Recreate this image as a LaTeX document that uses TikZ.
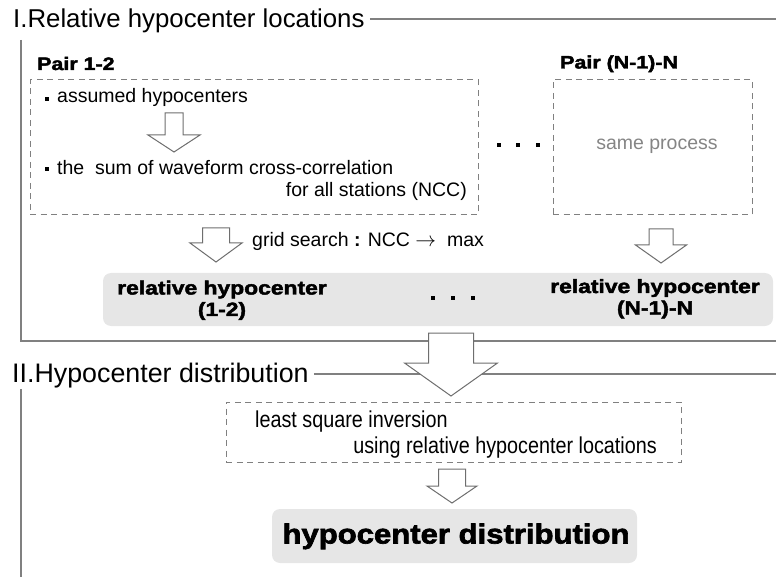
\documentclass[tikz,border=0pt]{standalone}
\usepackage{fontspec}
\setmainfont{Liberation Sans}
\newfontfamily\heavyfont[FakeBold=2.4,FakeStretch=1.19]{Liberation Sans Bold}
\newfontfamily\bigheavyfont[FakeBold=2.4,FakeStretch=1.13]{Liberation Sans Bold}
\newfontfamily\narrowfont[FakeStretch=0.86]{Liberation Sans}
\definecolor{framegray}{HTML}{808080}
\definecolor{arrowgray}{HTML}{6E6E6E}
\definecolor{panelgray}{HTML}{E6E6E6}
\definecolor{softtext}{HTML}{858585}
\tikzset{
  frameline/.style={draw=framegray, line width=1.2pt},
  dashbox/.style={draw=framegray, line width=1pt, dash pattern=on 6pt off 4.5pt, inner sep=0pt},
  panel/.style={fill=panelgray, rounded corners=8pt, inner sep=0pt},
  blockarrow/.style={draw=arrowgray, fill=white, line width=1pt, line join=miter},
  plain/.style={inner sep=0pt, font=\fontsize{19.5}{22}\selectfont},
  heading/.style={inner sep=0pt, font=\fontsize{25.8}{28}\selectfont},
  pairlabel/.style={inner sep=0pt, font=\heavyfont\fontsize{18}{20}\selectfont},
  result/.style={inner sep=0pt, align=center, font=\heavyfont\fontsize{19.2}{21.5}\selectfont},
  dotmark/.style={fill=black, minimum size=4pt, inner sep=0pt},
}
% hollow downward block arrow: centre x, shaft half width, top, head y, head half width, tip y
\newcommand\hollowarrow[6]{%
  \draw[blockarrow] ({#1-#2},#3) -- ({#1+#2},#3) -- ({#1+#2},#4) -- ({#1+#5},#4)
    -- (#1,#6) -- ({#1-#5},#4) -- ({#1-#2},#4) -- cycle;}
\begin{document}
\begin{tikzpicture}[x=1pt, y=-1pt]
\useasboundingbox (0,0) rectangle (776,577);

% ---------- section I ----------
\node[heading, anchor=base west] (titleI) at (13,27.5) {I.Relative hypocenter locations};
\coordinate (titleIend) at (776,19);
\draw[frameline] (titleI.east |- titleIend) ++(5,0) -- (titleIend);
\coordinate (secItop) at (21,40);
\coordinate (secIcorner) at (21,341);
\coordinate (secIend) at (776,341);
\draw[frameline] (secItop) -- (secIcorner) -- (secIend);

% pair 1-2
\node[pairlabel, anchor=base west] (pairA) at (37,70) {Pair 1-2};
\node[dashbox, minimum width=448pt, minimum height=135pt] (boxA) at (254,147.5) {};
\node[dotmark] (bulA) at (47,99) {};
\node[plain, anchor=base west] (assumed) at (57,103) {assumed hypocenters};
\hollowarrow{174}{9}{113}{135}{26}{152}
\node[dotmark] (bulB) at (47,169) {};
\node[plain, anchor=base west] (sumline) at (57,174.5) {the\ \ sum of waveform cross-correlation};
\node[plain, anchor=base east] (stations) at (467,197) {for all stations (NCC)};

% dots between the pairs
\node[dotmark] (d1) at (499,145) {};
\node[dotmark] (d2) at (518,145) {};
\node[dotmark] (d3) at (538,145) {};

% pair (N-1)-N
\node[pairlabel, anchor=base west] (pairB) at (560,68.5) {Pair (N-1)-N};
\node[dashbox, minimum width=199pt, minimum height=135pt] (boxB) at (652.5,147.5) {};
\node[plain, text=softtext, anchor=base] (same) at (657,150) {same process};

% grid search step
\hollowarrow{216}{13.5}{228}{243}{26}{262}
\node[plain, anchor=base west] (grid) at (252,247) {grid search {\bfseries :} NCC $\rightarrow$\ \ max};
\hollowarrow{661}{12}{229}{245}{25.5}{263}

% relative hypocenters
\node[panel, minimum width=670pt, minimum height=53pt] (relpanel) at (438,299.5) {};
\node[result, anchor=base] (relA) at (222,316) {relative hypocenter\\(1-2)};
\node[dotmark] (e1) at (433,298) {};
\node[dotmark] (e2) at (453,298) {};
\node[dotmark] (e3) at (473,298) {};
\node[result, anchor=base] (relB) at (655,314.5) {relative hypocenter\\(N-1)-N};

% ---------- section II ----------
\node[heading, anchor=base west, font=\fontsize{26.8}{28}\selectfont] (titleII) at (12,382) {II.Hypocenter distribution};
\coordinate (titleIIend) at (776,374);
\draw[frameline] (titleII.east |- titleIIend) ++(5,0) -- (titleIIend);
\coordinate (secIItop) at (21,389);
\coordinate (secIIbottom) at (21,577);
\draw[frameline] (secIItop) -- (secIIbottom);

% transfer arrow from section I to section II
\hollowarrow{451}{22.5}{333}{363}{46.5}{396}

% inversion step
\node[dashbox, minimum width=455pt, minimum height=60pt] (invbox) at (453.5,432) {};
\node[inner sep=0pt, anchor=base west, font=\narrowfont\fontsize{23}{26}\selectfont] (lsq) at (255,427) {least square inversion};
\node[inner sep=0pt, anchor=base east, font=\narrowfont\fontsize{23}{26}\selectfont] (using) at (657,453) {using relative hypocenter locations};
\hollowarrow{452}{13.5}{469}{486}{25}{503}

% final result
\node[panel, minimum width=365pt, minimum height=54pt] (distpanel) at (454.5,536) {};
\node[inner sep=0pt, anchor=base, font=\bigheavyfont\fontsize{27.5}{30}\selectfont] (dist) at (456,543.5) {hypocenter distribution};
\end{tikzpicture}
\end{document}
